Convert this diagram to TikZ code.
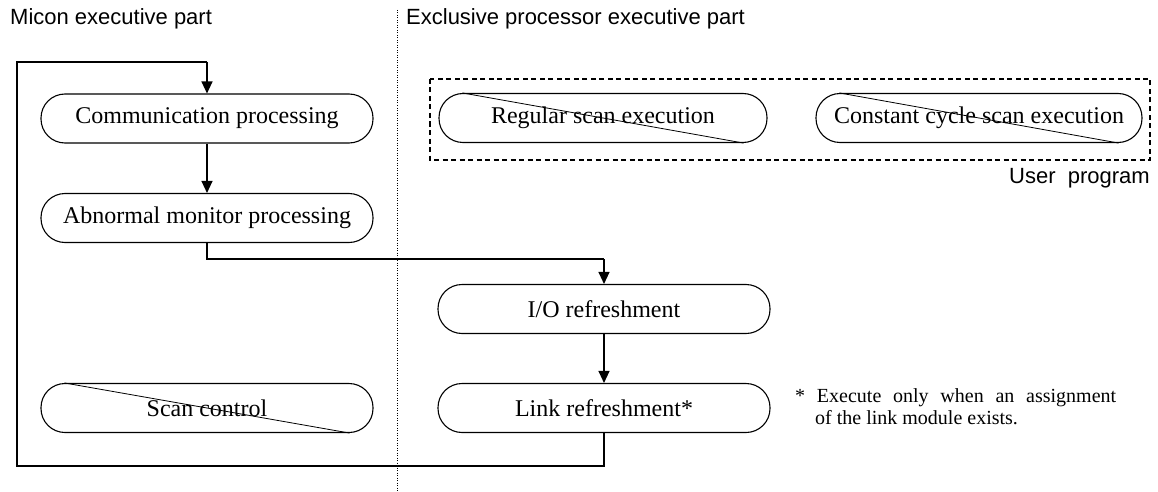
\documentclass[tikz,border=0pt]{standalone}
\usepackage{fontspec}
\setmainfont{Liberation Serif}
\newfontfamily\headfont{Liberation Sans}
\usetikzlibrary{arrows.meta,calc}

\tikzset{
  proc/.style={draw=black, line width=1.1pt, rounded corners=24pt,
    minimum width=332pt, minimum height=49pt, inner sep=0pt,
    font=\fontsize{24}{28}\selectfont},
  flow/.style={line width=1.2pt, -{Triangle[length=12pt,width=11pt]}},
  plain/.style={line width=1.2pt},
  cross/.style={line width=0.8pt},
  head/.style={font=\headfont\fontsize{22}{26}\selectfont, anchor=base west, inner sep=0pt},
  note/.style={font=\fontsize{20}{24}\selectfont, anchor=base west, inner sep=0pt},
}

\begin{document}
\begin{tikzpicture}[x=1pt, y=-1pt]
  \useasboundingbox[fill=white] (0,0) rectangle (1158,492);

  % column divider
  \draw[line width=1pt, dash pattern=on 1pt off 1.5pt] (397,10) -- (397,492);

  % column titles
  \node[head] (hleft) at (10,25) {Micon executive part};
  \node[head] (hright) at (406,25) {Exclusive processor executive part};

  % micon side
  \node[proc] (comm) at (207,118.5) {Communication processing};
  \node[proc] (abn)  at (207,218) {Abnormal monitor processing};
  \node[proc] (scan) at (207,408) {Scan control};

  % processor side
  \node[proc, minimum width=328pt] (reg)  at (603,118) {Regular scan execution};
  \node[proc, minimum width=326pt] (cons) at (979,118) {Constant cycle scan execution};
  \node[proc] (io)   at (604,309) {I/O refreshment};
  \node[proc] (link) at (604,408) {Link refreshment*};

  % user program frame
  \draw[line width=1.3pt, dash pattern=on 5pt off 3.5pt] (430,79) rectangle (1150,160);
  \node[head, anchor=base east] (user) at (1150,183) {User\ \ program};

  % crossed-out processes
  \foreach \n in {reg,cons,scan}
    \draw[cross] ($(\n.north west)+(24,0)$) -- ($(\n.south east)+(-24,0)$);

  % footnote
  \node[note] (fn1) at (795,402) {\makebox[321pt][s]{* Execute only when an assignment}};
  \node[note] (fn2) at (815,424) {of the link module exists.};

  % control flow
  \coordinate (lb) at (604,466);
  \coordinate (ll) at (17,466);
  \coordinate (lt) at (17,62);
  \coordinate (tt) at (207,62);
  \coordinate (ad) at (207,259);
  \coordinate (ar) at (604,259);

  \draw[plain] (link.south) -- (lb) -- (ll) -- (lt) -- (tt);
  \draw[flow] (tt) -- (comm.north);
  \draw[flow] (comm.south) -- (abn.north);
  \draw[plain] (abn.south) -- (ad) -- (ar);
  \draw[flow] (ar) -- (io.north);
  \draw[flow] (io.south) -- (link.north);
\end{tikzpicture}
\end{document}
